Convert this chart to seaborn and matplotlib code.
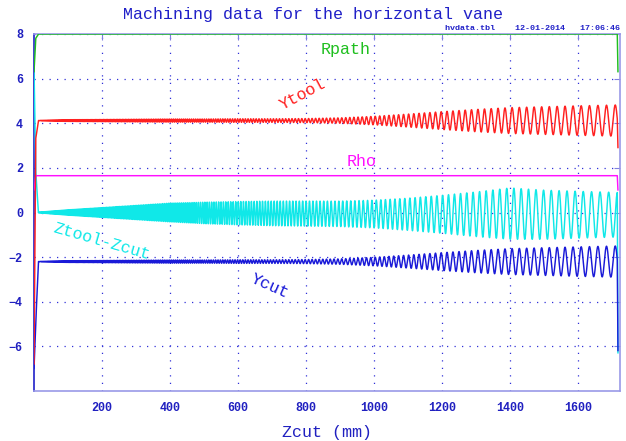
import numpy as np
import pandas as pd
import seaborn as sns
import matplotlib
matplotlib.use("Agg")
import matplotlib.pyplot as plt

# values
z_knots = [0, 100, 200, 300, 400, 500, 600, 700, 800, 900, 1000, 1100, 1200, 1300, 1400, 1500, 1600, 1715]
period_mm = [2.5, 3.2, 4.0, 4.8, 5.5, 6.5, 7.5, 8.7, 10.0, 11.5, 13.0, 15.0, 17.0, 19.0, 21.0, 22.5, 24.0, 26.0]
ytool_amp = [0.0, 0.04, 0.05, 0.06, 0.07, 0.07, 0.08, 0.08, 0.09, 0.12, 0.19, 0.29, 0.4, 0.5, 0.58, 0.62, 0.66, 0.7]
ycut_amp = [0.0, 0.04, 0.05, 0.06, 0.07, 0.07, 0.08, 0.08, 0.09, 0.12, 0.19, 0.29, 0.4, 0.5, 0.58, 0.62, 0.66, 0.7]
dz_amp = [0.0, 0.12, 0.22, 0.32, 0.42, 0.48, 0.52, 0.55, 0.56, 0.57, 0.62, 0.72, 0.85, 1.0, 1.15, 1.1, 1.05, 1.0]
dz_mid = [0.0, 0.0, 0.0, 0.0, 0.0, -0.02, -0.03, -0.04, -0.05, -0.06, -0.07, -0.08, -0.08, -0.08, -0.05, -0.1, -0.1, -0.1]

rpath_level = 8.0
ytool_level = 4.12
ycut_level = -2.2
rho_level = 1.65

# start-up ramp (first few mm) and end drop
ramp_z = [0.0, 5.0, 13.0]
rpath_ramp = [6.3, 7.8, 8.0]
ytool_ramp = [-6.8, 3.3, 4.12]
ycut_ramp = [-7.0, -5.0, -2.2]
rho_ramp = [1.0, 1.65, 1.65]
dz_ramp = [6.5, 1.9, 0.0]
z_end = 1717
end_vals = {"Rpath": 6.3, "Ytool": 2.9, "Rho": 1.0, "Ztool-Zcut": -6.3, "Ycut": -6.2}

colors = {"Rpath": "#1fbf1f", "Ytool": "#ff2020", "Rho": "#ff10ff",
          "Ztool-Zcut": "#10e8e8", "Ycut": "#1a1ad8"}

z = np.linspace(0, 1715, 24000)
per = np.interp(z, z_knots, period_mm)
phase = 2 * np.pi * np.cumsum(np.gradient(z) / per)

curves = {
    "Rpath": np.full_like(z, rpath_level),
    "Ytool": ytool_level + np.interp(z, z_knots, ytool_amp) * np.sin(phase),
    "Rho": np.full_like(z, rho_level),
    "Ztool-Zcut": np.interp(z, z_knots, dz_mid) + np.interp(z, z_knots, dz_amp) * np.sin(phase - np.pi / 2),
    "Ycut": ycut_level + np.interp(z, z_knots, ycut_amp) * np.sin(phase),
}
ramps = {"Rpath": rpath_ramp, "Ytool": ytool_ramp, "Rho": rho_ramp,
         "Ztool-Zcut": dz_ramp, "Ycut": ycut_ramp}
for k in curves:
    m = z < ramp_z[-1]
    curves[k][m] = np.interp(z[m], ramp_z, ramps[k])

sns.set_style("white")
plt.rcParams["font.family"] = ["Liberation Mono", "DejaVu Sans Mono"]

fig = plt.figure(figsize=(6.26, 4.41), dpi=100)
ax = fig.add_axes([34 / 626, 50 / 441, 586 / 626, 357 / 441])

for k in ["Ztool-Zcut", "Rho", "Ycut", "Ytool", "Rpath"]:
    df = pd.DataFrame({"z": np.append(z, z_end), "v": np.append(curves[k], end_vals[k])})
    sns.lineplot(data=df, x="z", y="v", ax=ax, color=colors[k], lw=1.05,
                 estimator=None, sort=False, zorder=3)

ax.set_xlim(0, 1723)
ax.set_ylim(-8, 8)
ax.set_xticks([200, 400, 600, 800, 1000, 1200, 1400, 1600])
ax.set_yticks([-6, -4, -2, 0, 2, 4, 6, 8])
ax.grid(True, color="#3030d8", linestyle=(0, (1, 5)), lw=0.9)
ax.tick_params(direction="in", length=4, color="#8080e0", top=True, right=True,
               labelsize=8.5, labelcolor="#2020c0", pad=8)
for t in ax.get_xticklabels() + ax.get_yticklabels():
    t.set_fontweight("bold")
for s in ["top", "right", "bottom"]:
    ax.spines[s].set_color("#9a9ae8")
ax.spines["left"].set_color("#2020c8")
for s in ax.spines.values():
    s.set_linewidth(1.2)

ax.set_xlabel("Zcut (mm)", fontsize=12, color="#2020c0", labelpad=8)
ax.set_ylabel("")

lab = dict(fontsize=12, ha="center", va="center")
ax.text(915, 7.3, "Rpath", color=colors["Rpath"], **lab)
ax.text(791, 5.28, "Ytool", color=colors["Ytool"], rotation=28, **lab)
ax.text(962, 2.3, "Rho", color=colors["Rho"], **lab)
ax.text(200, -1.3, "Ztool-Zcut", color=colors["Ztool-Zcut"], rotation=-16, **lab)
ax.text(694, -3.3, "Ycut", color=colors["Ycut"], rotation=-24, **lab)

fig.text(0.5, 1 - 15 / 441, "Machining data for the horizontal vane",
         ha="center", va="center", fontsize=12, color="#2020c8")
fig.text(620 / 626, 1 - 29 / 441, "hvdata.tbl    12-01-2014   17:06:46",
         ha="right", va="center", fontsize=6, fontweight="bold", color="#2020c8")

fig.savefig("out.png", dpi=100)
